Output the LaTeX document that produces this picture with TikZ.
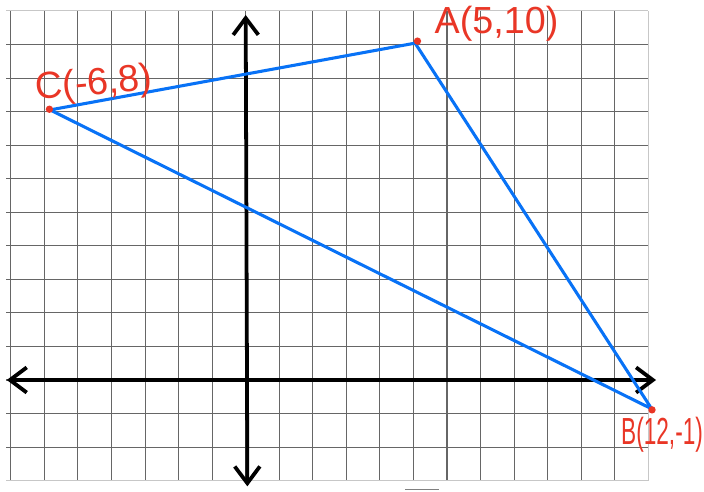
\documentclass[tikz,border=0pt]{standalone}
\usepackage{fontspec}
\setmainfont{Liberation Sans}
\usetikzlibrary{arrows.meta}
\definecolor{penred}{RGB}{233,54,38}
\definecolor{penblue}{RGB}{8,114,246}
\begin{document}
\begin{tikzpicture}[
  gridline/.style={draw=black!60, line width=0.9pt},
  edgeline/.style={draw=black!22, line width=0.8pt},
  axisline/.style={line width=3.2pt, line cap=round, {Straight Barb[length=5mm,width=7.5mm]}-{Straight Barb[length=5mm,width=7.5mm]}},
  side/.style={draw=penblue, line width=2.6pt, line join=round},
  dot/.style={circle, fill=penred, inner sep=0pt, minimum size=2.2mm},
  lbl/.style={text=penred, font=\fontsize{32}{32}\selectfont, inner sep=0pt}
]
\useasboundingbox (-7.323,-3.338) rectangle (13.66,11.326);
% grid
\foreach \x in {-7,...,11} \draw[gridline] (\x,-3) -- (\x,11);
\draw[edgeline] (12,-3) -- (12,11);
\foreach \y in {-2,...,10} \draw[gridline] (-7.14,\y) -- (12,\y);
\draw[edgeline] (-7.14,11) -- (12,11);
\draw[edgeline] (-7.14,-3) -- (12,-3);
\draw[black!50, line width=0.8pt] (4.75,-3.26) -- (5.76,-3.26);
% axes
\coordinate (xl) at (-7.12,0);
\coordinate (xr) at (12.23,0);
\coordinate (yb) at (0.05,-3.17);
\coordinate (yt) at (0,10.88);
\draw[axisline] (xl) -- (xr);
\draw[axisline] (yb) -- (yt);
% triangle
\coordinate (A) at (5.05,10.04);
\coordinate (B) at (12.1,-0.86);
\coordinate (C) at (-5.83,8.05);
\draw[side] (A) -- (B) -- (C) -- cycle;
\node[dot] (dA) at (5.12,10.1) {};
\node[dot] (dB) at (12.11,-0.89) {};
\node[dot] (dC) at (-5.85,8.07) {};
% labels
\node[lbl] (lA) at (7.475,10.62) {A(5,10)};
\node[lbl, rotate=5] (lC) at (-4.52,8.79) {C(-6,8)};
\node[lbl] (lB) at (12.41,-1.64) {\scalebox{0.6}[1]{B(12,-1)}};
\end{tikzpicture}
\end{document}
